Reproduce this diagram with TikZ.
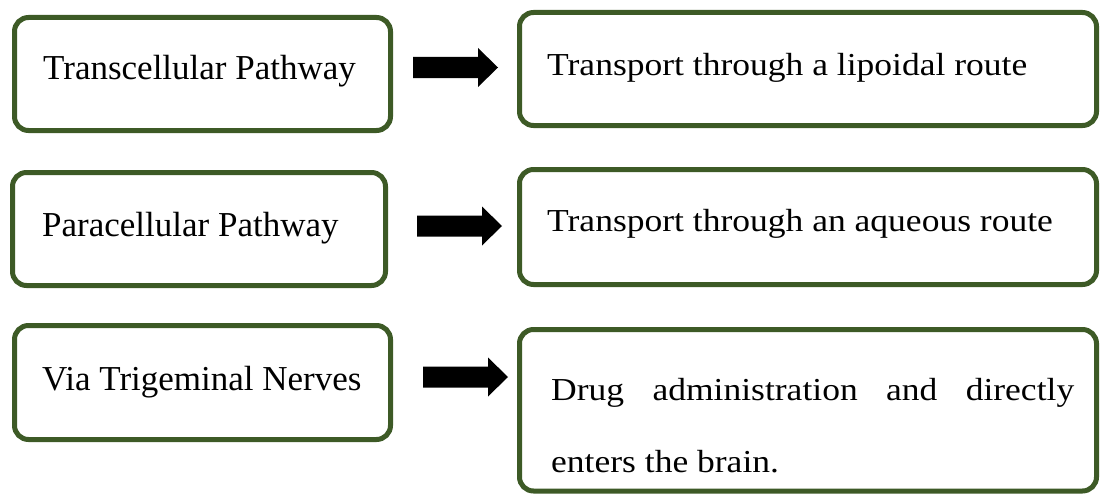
\documentclass[tikz,border=0pt]{standalone}
\usepackage{fontspec}
\setmainfont{Liberation Serif}
\newfontfamily\rfont[FakeStretch=1.11]{Liberation Serif}
\definecolor{boxgreen}{RGB}{61,90,38}
\tikzset{
  pbox/.style={draw=boxgreen, line width=5pt, rounded corners=14pt, inner sep=0pt, outer sep=0pt, fill=white},
  ltext/.style={anchor=base west, inner sep=0pt, font=\fontsize{35}{41}\selectfont},
  rtext/.style={anchor=base west, inner sep=0pt, font=\rfont\fontsize{32}{38}\selectfont},
  blockarrow/.pic={\fill[black] (0,-10.5) -- (65,-10.5) -- (65,-19.5) -- (85,0) -- (65,19.5) -- (65,10.5) -- (0,10.5) -- cycle;}
}
\begin{document}
\begin{tikzpicture}[x=1pt,y=-1pt]
\useasboundingbox (0,0) rectangle (1100,495);
% left boxes
\node[pbox, minimum width=376pt, minimum height=113pt] (l1) at (202.5,74) {};
\node[pbox, minimum width=373pt, minimum height=113pt] (l2) at (199,229) {};
\node[pbox, minimum width=376pt, minimum height=114pt] (l3) at (202.5,382.5) {};
% right boxes
\node[pbox, minimum width=577pt, minimum height=113pt] (r1) at (808,69) {};
\node[pbox, minimum width=577pt, minimum height=115pt] (r2) at (808,227) {};
\node[pbox, minimum width=577pt, minimum height=161.5pt] (r3) at (808,410.25) {};
% texts
\node[ltext] (l1t) at (43,80) {Transcellular Pathway};
\node[ltext] (l2t) at (42,236) {Paracellular Pathway};
\node[ltext] (l3t) at (42,390) {Via Trigeminal Nerves};
\node[rtext] (r1t) at (547,75) {Transport through a lipoidal route};
\node[rtext] (r2t) at (547,231) {Transport through an aqueous route};
\node[rtext] (r3a) at (551,400) {\makebox[523pt][s]{Drug administration and directly}};
\node[rtext] (r3b) at (551,472) {enters the brain.};
% block arrows
\pic (a1) at (413,67.5) {blockarrow};
\pic (a2) at (417,226) {blockarrow};
\pic (a3) at (423,377) {blockarrow};
\end{tikzpicture}
\end{document}
